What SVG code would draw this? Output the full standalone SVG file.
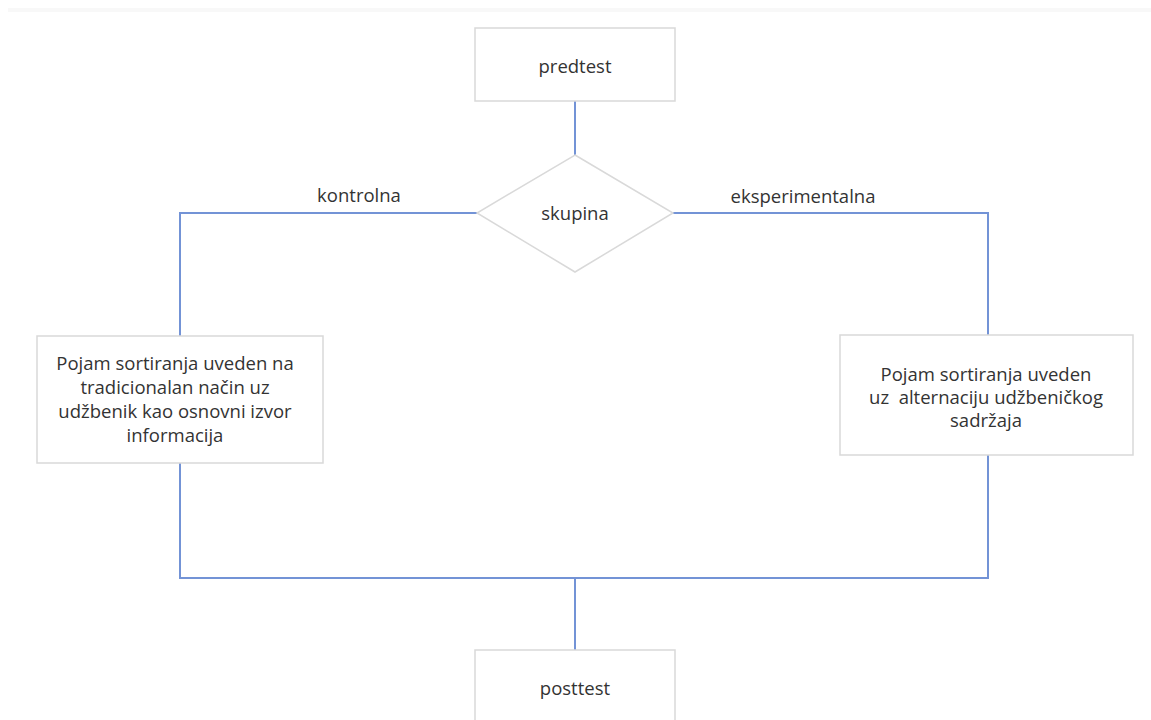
<svg xmlns="http://www.w3.org/2000/svg" width="1151" height="720" viewBox="0 0 1151 720">
<style>
.box{fill:#ffffff;stroke:#d9d9d9;stroke-width:1.5}
.con{fill:none;stroke:#7393d6;stroke-width:2}
.t{font-family:"Open Sans","Noto Sans","Liberation Sans",sans-serif;font-size:18.5px;fill:#333333;text-anchor:middle;dominant-baseline:central}
</style>
<rect x="0" y="0" width="1151" height="720" fill="#ffffff"/>
<rect x="8" y="8" width="1143" height="4" fill="#f8f8f8"/>
<g id="connectors">
<path class="con" d="M575 101 V155"/>
<path class="con" d="M477 213 H180 V336"/>
<path class="con" d="M673 213 H988 V335"/>
<path class="con" d="M180 463 V578 H988 V455"/>
<path class="con" d="M575 578 V650"/>
</g>
<g id="predtest">
<rect class="box" x="475" y="28" width="200" height="73"/>
<text class="t" x="575" y="65">predtest</text>
</g>
<g id="skupina">
<polygon class="box" points="575,155 673,213 575,272 477,213"/>
<text class="t" x="575" y="212">skupina</text>
</g>
<g id="label-kontrolna">
<text class="t" x="359" y="194">kontrolna</text>
</g>
<g id="label-eksperimentalna">
<text class="t" x="803" y="195">eksperimentalna</text>
</g>
<g id="kontrolna-box">
<rect class="box" x="37" y="336" width="286" height="127"/>
<text class="t" x="175" y="362">Pojam sortiranja uveden na</text>
<text class="t" x="175" y="386">tradicionalan način uz</text>
<text class="t" x="175" y="410">udžbenik kao osnovni izvor</text>
<text class="t" x="175" y="434">informacija</text>
</g>
<g id="eksperimentalna-box">
<rect class="box" x="840" y="335" width="293" height="120"/>
<text class="t" x="986" y="373">Pojam sortiranja uveden</text>
<text class="t" x="986" y="396" xml:space="preserve">uz  alternaciju udžbeničkog</text>
<text class="t" x="986" y="419">sadržaja</text>
</g>
<g id="posttest">
<rect class="box" x="475" y="650" width="200" height="80"/>
<text class="t" x="575" y="687">posttest</text>
</g>
</svg>
